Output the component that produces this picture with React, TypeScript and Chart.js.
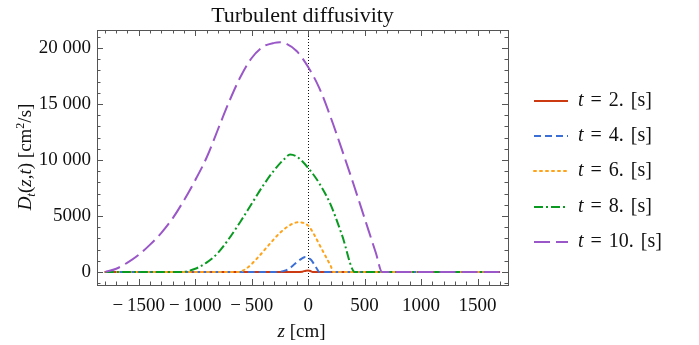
import React, { useEffect, useRef } from "react";
import { Chart, registerables } from "chart.js";
Chart.register(...registerables);

// ---- data ----
const timeLabels = ["2.", "4.", "6.", "8.", "10."];
const t2X = [-1800, -100, -50, -20, 0, 20, 40, 1700];
const t2Y = [0, 0, 40, 130, 150, 100, 0, 0];
const t4X = [-1800, -275, -200, -150, -100, -50, -25, 0, 25, 50, 75, 100, 1700];
const t4Y = [0, 0, 150, 450, 900, 1250, 1350, 1280, 1100, 750, 350, 0, 0];
const t6X = [-1800, -630, -550, -450, -350, -250, -150, -88, 0, 50, 100, 150, 200, 225, 1700];
const t6Y = [0, 0, 300, 1250, 2400, 3500, 4250, 4450, 4150, 3400, 2450, 1500, 550, 0, 0];
const t8X = [-1800, -1130, -1000, -900, -800, -700, -600, -500, -400, -300, -200, -160, -100, 0, 100, 200, 300, 416, 1700];
const t8Y = [0, 0, 300, 850, 1700, 3000, 4500, 6100, 7700, 9100, 10200, 10500, 10300, 9300, 7900, 6000, 3300, 0, 0];
const t10X = [-1800, -1700, -1600, -1500, -1400, -1300, -1200, -1100, -1000, -900, -800, -700, -600, -500, -400, -300, -250, -200, -100, 0, 100, 200, 300, 400, 500, 600, 655, 1700];
const t10Y = [0, 300, 850, 1550, 2450, 3500, 4800, 6400, 8200, 10200, 12700, 15200, 17400, 19100, 20100, 20450, 20500, 20400, 19700, 18300, 16400, 13800, 10900, 7900, 4800, 1700, 0, 0];

const xTicks = [-1500, -1000, -500, 0, 500, 1000, 1500];
const yTicks = [0, 5000, 10000, 15000, 20000];

const colors = ["#cc3a12", "#3b6fd6", "#ffa31a", "#0a9a22", "#9a57c8"];
const dashes: number[][] = [[], [7, 4], [2, 4], [9, 3, 2, 3], [16, 6]];

const FONT = "'Liberation Serif', 'Times New Roman', serif";

function fmt(v: number): string {
  const a = Math.abs(v);
  let s = String(a);
  if (a >= 10000) s = s.slice(0, s.length - 3) + " " + s.slice(-3);
  return (v < 0 ? "\u2212\u2009" : "") + s;
}

const framePlugin = {
  id: "mmaFrame",
  beforeDatasetsDraw(chart: any) {
    const { ctx, chartArea: a, scales } = chart;
    const x0 = scales.x.getPixelForValue(0);
    ctx.save();
    ctx.strokeStyle = "#111";
    ctx.lineWidth = 1;
    ctx.setLineDash([1, 2]);
    ctx.beginPath();
    ctx.moveTo(Math.round(x0) + 0.5, a.top);
    ctx.lineTo(Math.round(x0) + 0.5, a.bottom);
    ctx.stroke();
    ctx.restore();
  },
  afterDraw(chart: any) {
    const { ctx, chartArea: a, scales } = chart;
    const sx = scales.x, sy = scales.y;
    ctx.save();
    ctx.strokeStyle = "#555";
    ctx.lineWidth = 1;
    ctx.setLineDash([]);
    ctx.strokeRect(Math.round(a.left) + 0.5, Math.round(a.top) + 0.5, Math.round(a.right - a.left), Math.round(a.bottom - a.top));
    ctx.beginPath();
    for (let v = -1800; v <= 1700; v += 100) {
      const px = Math.round(sx.getPixelForValue(v)) + 0.5;
      const len = v % 500 === 0 ? 6 : 3.5;
      ctx.moveTo(px, a.bottom);
      ctx.lineTo(px, a.bottom - len);
      ctx.moveTo(px, a.top);
      ctx.lineTo(px, a.top + len);
    }
    for (let v = -1000; v <= 21000; v += 1000) {
      const py = Math.round(sy.getPixelForValue(v)) + 0.5;
      const len = v % 5000 === 0 ? 6 : 3.5;
      ctx.moveTo(a.left, py);
      ctx.lineTo(a.left + len, py);
      ctx.moveTo(a.right, py);
      ctx.lineTo(a.right - len, py);
    }
    ctx.stroke();

    // title
    ctx.fillStyle = "#111";
    ctx.font = `22px ${FONT}`;
    ctx.textAlign = "center";
    ctx.textBaseline = "alphabetic";
    ctx.fillText("Turbulent diffusivity", (a.left + a.right) / 2, 22);

    const drawRuns = (runs: [string, string][], cx: number, cy: number) => {
      ctx.textAlign = "left";
      let w = 0;
      for (const [t, f] of runs) { ctx.font = f; w += ctx.measureText(t).width; }
      let x = cx - w / 2;
      for (const [t, f] of runs) { ctx.font = f; ctx.fillText(t, x, cy); x += ctx.measureText(t).width; }
    };
    const N = `19px ${FONT}`, I = `italic 19px ${FONT}`;
    drawRuns([["z", I], [" [cm]", N]], (a.left + a.right) / 2 - 1, 337);

    // y title (rotated)
    ctx.save();
    ctx.translate(31, 157);
    ctx.rotate(-Math.PI / 2);
    const runs: [string, string, number][] = [
      ["D", I, 0], ["t", `italic 13px ${FONT}`, 4], ["(", N, 0], ["z", I, 0], [",", N, 0], ["t", I, 0],
      [")", N, 0], [" [cm", N, 0], ["2", `12px ${FONT}`, -7], ["/s]", N, 0],
    ];
    let w = 0;
    for (const [t, f] of runs) { ctx.font = f; w += ctx.measureText(t).width; }
    let x = -w / 2;
    ctx.textAlign = "left";
    for (const [t, f, dy] of runs) { ctx.font = f; ctx.fillText(t, x, dy); x += ctx.measureText(t).width; }
    ctx.restore();

    // legend
    const LN = `20px ${FONT}`, LI = `italic 20px ${FONT}`;
    const rowY = [101, 136, 171, 207, 242];
    for (let i = 0; i < 5; i++) {
      const y = rowY[i];
      ctx.strokeStyle = colors[i];
      ctx.lineWidth = 2;
      ctx.lineCap = i === 2 ? "round" : "butt";
      ctx.setLineDash(dashes[i]);
      ctx.beginPath();
      ctx.moveTo(534, y);
      ctx.lineTo(568, y);
      ctx.stroke();
      ctx.setLineDash([]);
      ctx.fillStyle = "#111";
      ctx.textAlign = "left";
      ctx.textBaseline = "middle";
      const parts: [string, string][] = [["t", LI], ["=", LN], [timeLabels[i], LN], ["[s]", LN]];
      let lx = 578;
      for (const [t, f] of parts) {
        ctx.font = f;
        ctx.fillText(t, lx, y);
        lx += ctx.measureText(t).width + 7;
      }
    }
    ctx.restore();
  },
};

export default function App() {
  const ref = useRef<HTMLCanvasElement | null>(null);
  useEffect(() => {
    document.body.style.margin = "0";
    const xs = [t2X, t4X, t6X, t8X, t10X];
    const ys = [t2Y, t4Y, t6Y, t8Y, t10Y];
    const datasets = xs.map((xa, i) => ({
      label: "t = " + timeLabels[i] + " [s]",
      data: xa.map((xv, j) => ({ x: xv, y: ys[i][j] })),
      borderColor: colors[i],
      backgroundColor: colors[i],
      borderWidth: 2,
      borderDash: dashes[i],
      borderCapStyle: i === 2 ? "round" : "butt",
      pointRadius: 0,
      fill: false,
      cubicInterpolationMode: "monotone",
      order: 5 - i,
    }));
    const chart = new Chart(ref.current as HTMLCanvasElement, {
      type: "line",
      data: { datasets } as any,
      options: {
        animation: false,
        responsive: false,
        events: [],
        layout: { padding: { left: 0, top: 30, right: 191, bottom: 0 } },
        plugins: { legend: { display: false }, tooltip: { enabled: false }, title: { display: false } },
        scales: {
          x: {
            type: "linear",
            min: -1870,
            max: 1770,
            grid: { display: false, drawTicks: false },
            border: { display: false },
            afterBuildTicks: (s: any) => { s.ticks = xTicks.map((v) => ({ value: v })); },
            afterFit: (s: any) => { s.height = 60; },
            ticks: {
              padding: 10,
              maxRotation: 0,
              autoSkip: false,
              color: "#111",
              font: { family: FONT, size: 19 },
              callback: (v: any) => fmt(Number(v)),
            },
          },
          y: {
            type: "linear",
            min: -1150,
            max: 21600,
            grid: { display: false, drawTicks: false },
            border: { display: false },
            afterBuildTicks: (s: any) => { s.ticks = yTicks.map((v) => ({ value: v })); },
            afterFit: (s: any) => { s.width = 97; },
            ticks: {
              padding: 6,
              autoSkip: false,
              color: "#111",
              font: { family: FONT, size: 19 },
              callback: (v: any) => fmt(Number(v)),
            },
          },
        },
      } as any,
      plugins: [framePlugin],
    });
    return () => chart.destroy();
  }, []);
  return <canvas ref={ref} width={699} height={345} style={{ display: "block" }} />;
}
